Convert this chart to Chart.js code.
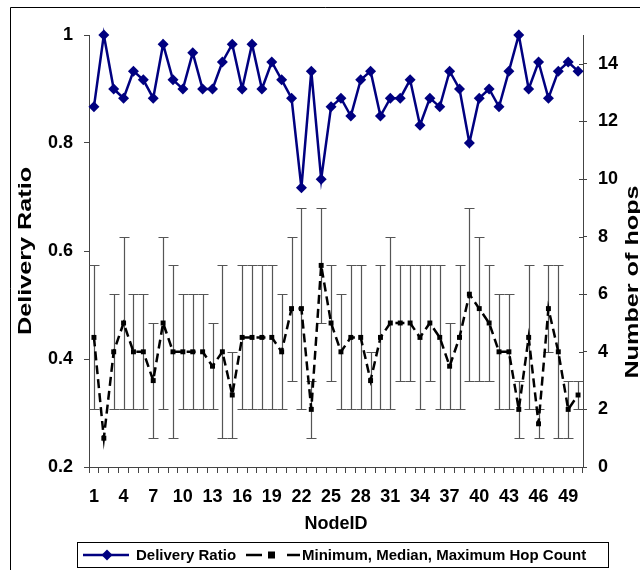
<!DOCTYPE html>
<html>
<head>
<meta charset="utf-8">
<title>Delivery Ratio and Hop Count per Node</title>
<script src="https://cdn.jsdelivr.net/npm/chart.js@4/dist/chart.umd.min.js"></script>
<style>
  html, body { margin: 0; padding: 0; background: #fff; }
  #wrap { width: 640px; height: 570px; position: relative; }
</style>
</head>
<body>
<div id="wrap"><canvas id="chart" width="640" height="570"></canvas></div>
<script>
// Node identifiers (x categories)
const nodeIds = [1, 2, 3, 4, 5, 6, 7, 8, 9, 10, 11, 12, 13, 14, 15, 16, 17, 18, 19, 20,
  21, 22, 23, 24, 25, 26, 27, 28, 29, 30, 31, 32, 33, 34, 35, 36, 37, 38, 39, 40,
  41, 42, 43, 44, 45, 46, 47, 48, 49, 50];

// Delivery ratio per node (left axis)
const deliveryRatio = [0.867, 1.0, 0.9, 0.883, 0.933, 0.917, 0.883, 0.983, 0.917, 0.9,
  0.967, 0.9, 0.9, 0.95, 0.983, 0.9, 0.983, 0.9, 0.95, 0.917,
  0.883, 0.717, 0.933, 0.733, 0.867, 0.883, 0.85, 0.917, 0.933, 0.85,
  0.883, 0.883, 0.917, 0.833, 0.883, 0.867, 0.933, 0.9, 0.8, 0.883,
  0.9, 0.867, 0.933, 1.0, 0.9, 0.95, 0.883, 0.933, 0.95, 0.933];

// Hop count statistics per node (right axis)
const hopMedian = [4.5, 1, 4, 5, 4, 4, 3, 5, 4, 4,
  4, 4, 3.5, 4, 2.5, 4.5, 4.5, 4.5, 4.5, 4,
  5.5, 5.5, 2, 7, 5, 4, 4.5, 4.5, 3, 4.5,
  5, 5, 5, 4.5, 5, 4.5, 3.5, 4.5, 6, 5.5,
  5, 4, 4, 2, 4.5, 1.5, 5.5, 4, 2, 2.5];
const hopMin = [2, 1, 2, 2, 2, 2, 1, 2, 1, 2,
  2, 2, 2, 1, 1, 2, 2, 2, 2, 2,
  3, 2, 1, 5, 3, 2, 2, 2, 2, 2,
  2, 3, 3, 2, 3, 2, 2, 2, 3, 3,
  3, 2, 2, 1, 2, 1, 4, 1, 1, 2];
const hopMax = [7, 1, 6, 8, 6, 6, 5, 8, 7, 6,
  6, 6, 5, 7, 4, 7, 7, 7, 7, 6,
  8, 9, 3, 9, 7, 6, 7, 7, 4, 7,
  8, 7, 7, 7, 7, 7, 5, 7, 9, 8,
  7, 6, 6, 3, 7, 2, 7, 7, 3, 3];

// Axis tick settings
const ratioTicks = { min: 0.2, max: 1.0, step: 0.2 };
const hopTicks = { min: 0, max: 15, step: 2 };
const xLabelEvery = 3;

const FONT = "'Liberation Sans', Arial, Helvetica, sans-serif";
const NAVY = '#000080';

// Min/max whiskers for the hop count, drawn under the lines
const errorBars = {
  id: 'errorBars',
  beforeDatasetsDraw(chart) {
    const { ctx, scales: { x, y1 } } = chart;
    ctx.save();
    ctx.strokeStyle = '#555';
    ctx.lineWidth = 1.2;
    const cap = 5;
    hopMin.forEach((lo, i) => {
      const hi = hopMax[i];
      if (hi === lo) return;
      const px = Math.round(x.getPixelForValue(i)) + 0.5;
      const yTop = Math.round(y1.getPixelForValue(hi)) + 0.5;
      const yBot = Math.round(y1.getPixelForValue(lo)) + 0.5;
      ctx.beginPath();
      ctx.moveTo(px, yTop); ctx.lineTo(px, yBot);
      ctx.moveTo(px - cap, yTop); ctx.lineTo(px + cap, yTop);
      ctx.moveTo(px - cap, yBot); ctx.lineTo(px + cap, yBot);
      ctx.stroke();
    });
    ctx.restore();
  }
};

// Frame, crossing ticks on the right axis, vertical titles and the boxed legend
const decorations = {
  id: 'decorations',
  afterDraw(chart) {
    const { ctx, scales: { y1 } } = chart;
    ctx.save();
    // outer frame edges
    ctx.strokeStyle = '#000';
    ctx.lineWidth = 1;
    ctx.beginPath();
    ctx.moveTo(10.5, 570); ctx.lineTo(10.5, 7.5); ctx.lineTo(640, 7.5);
    ctx.stroke();

    // inner half of the right axis ticks
    ctx.strokeStyle = '#444';
    y1.ticks.forEach(t => {
      const py = Math.round(y1.getPixelForValue(t.value)) + 0.5;
      ctx.beginPath();
      ctx.moveTo(y1.left - 4, py); ctx.lineTo(y1.left, py);
      ctx.stroke();
    });

    // axis titles, both reading bottom to top
    ctx.fillStyle = '#000';
    ctx.font = `bold 18px ${FONT}`;
    ctx.textAlign = 'center';
    ctx.textBaseline = 'middle';
    const area = chart.chartArea;
    ctx.save();
    ctx.translate(26, (area.top + area.bottom) / 2);
    ctx.rotate(-Math.PI / 2);
    ctx.scale(1.4, 1);
    ctx.fillText('Delivery Ratio', 0, 0);
    ctx.restore();
    ctx.save();
    ctx.translate(633, 282);
    ctx.rotate(-Math.PI / 2);
    ctx.scale(1.4, 1);
    ctx.fillText('Number of hops', 0, 0);
    ctx.restore();

    // legend box
    const lx = 77.5, ly = 542.5, lw = 531, lh = 25, cy = 555;
    ctx.fillStyle = '#fff';
    ctx.fillRect(lx, ly, lw, lh);
    ctx.strokeStyle = '#000';
    ctx.lineWidth = 1;
    ctx.strokeRect(lx, ly, lw, lh);

    const [dsRatio, dsHop] = chart.data.datasets;
    // delivery ratio sample
    ctx.strokeStyle = dsRatio.borderColor;
    ctx.lineWidth = 2.5;
    ctx.beginPath(); ctx.moveTo(83, cy); ctx.lineTo(129, cy); ctx.stroke();
    ctx.fillStyle = dsRatio.borderColor;
    ctx.beginPath();
    ctx.moveTo(107, cy - 5.5); ctx.lineTo(112.5, cy); ctx.lineTo(107, cy + 5.5); ctx.lineTo(101.5, cy);
    ctx.closePath(); ctx.fill();
    // hop count sample
    ctx.strokeStyle = dsHop.borderColor;
    ctx.beginPath(); ctx.moveTo(246, cy); ctx.lineTo(262, cy); ctx.stroke();
    ctx.beginPath(); ctx.moveTo(287, cy); ctx.lineTo(300, cy); ctx.stroke();
    ctx.fillStyle = dsHop.borderColor;
    ctx.fillRect(268, cy - 3.5, 7, 7);

    ctx.fillStyle = '#000';
    ctx.font = `bold 15px ${FONT}`;
    ctx.textAlign = 'left';
    ctx.textBaseline = 'middle';
    ctx.fillText(dsRatio.label, 136, cy + 1);
    ctx.fillText(dsHop.label, 302, cy + 1);
    ctx.restore();
  }
};

const tickFont = { family: FONT, size: 18, weight: 'bold' };

new Chart(document.getElementById('chart').getContext('2d'), {
  type: 'line',
  data: {
    labels: nodeIds.map(String),
    datasets: [
      {
        label: 'Delivery Ratio',
        data: deliveryRatio,
        yAxisID: 'y',
        borderColor: NAVY,
        backgroundColor: NAVY,
        borderWidth: 2.5,
        pointStyle: 'rectRot',
        pointRadius: 5.5,
        pointBorderWidth: 0,
        tension: 0,
        clip: false
      },
      {
        label: 'Minimum, Median, Maximum Hop Count',
        data: hopMedian,
        yAxisID: 'y1',
        borderColor: '#000',
        backgroundColor: '#000',
        borderWidth: 2.5,
        borderDash: [9, 5],
        pointStyle: 'rect',
        pointRadius: 3.5,
        pointBorderWidth: 0,
        tension: 0,
        clip: false
      }
    ]
  },
  options: {
    responsive: false,
    animation: false,
    events: [],
    layout: { padding: { top: 35, bottom: 35, left: 0, right: 0 } },
    plugins: { legend: { display: false }, tooltip: { enabled: false } },
    scales: {
      x: {
        type: 'category',
        offset: true,
        border: { color: '#444', width: 1 },
        grid: { offset: true, drawOnChartArea: false, drawTicks: true, tickLength: 6, color: '#444' },
        ticks: {
          autoSkip: false, maxRotation: 0, minRotation: 0, padding: 13,
          color: '#000', font: tickFont,
          callback: (v, i) => (i % xLabelEvery === 0 ? String(nodeIds[i]) : '')
        },
        title: { display: true, text: 'NodeID', color: '#000', font: tickFont, padding: 0 },
        afterFit(s) { s.height = 68; }
      },
      y: {
        position: 'left',
        min: ratioTicks.min,
        max: ratioTicks.max,
        border: { color: '#444', width: 1 },
        grid: { drawOnChartArea: false, tickLength: 5, color: '#444' },
        ticks: {
          stepSize: ratioTicks.step, includeBounds: false, padding: 11,
          color: '#000', font: tickFont,
          callback: v => String(Math.round(v * 10) / 10)
        },
        afterFit(s) { s.width = 89; }
      },
      y1: {
        position: 'right',
        min: hopTicks.min,
        max: hopTicks.max,
        border: { color: '#444', width: 1 },
        grid: { drawOnChartArea: false, tickLength: 4, color: '#444' },
        ticks: {
          stepSize: hopTicks.step, includeBounds: false, padding: 11,
          color: '#000', font: tickFont
        },
        afterFit(s) { s.width = 57; }
      }
    }
  },
  plugins: [errorBars, decorations]
});
</script>
</body>
</html>
